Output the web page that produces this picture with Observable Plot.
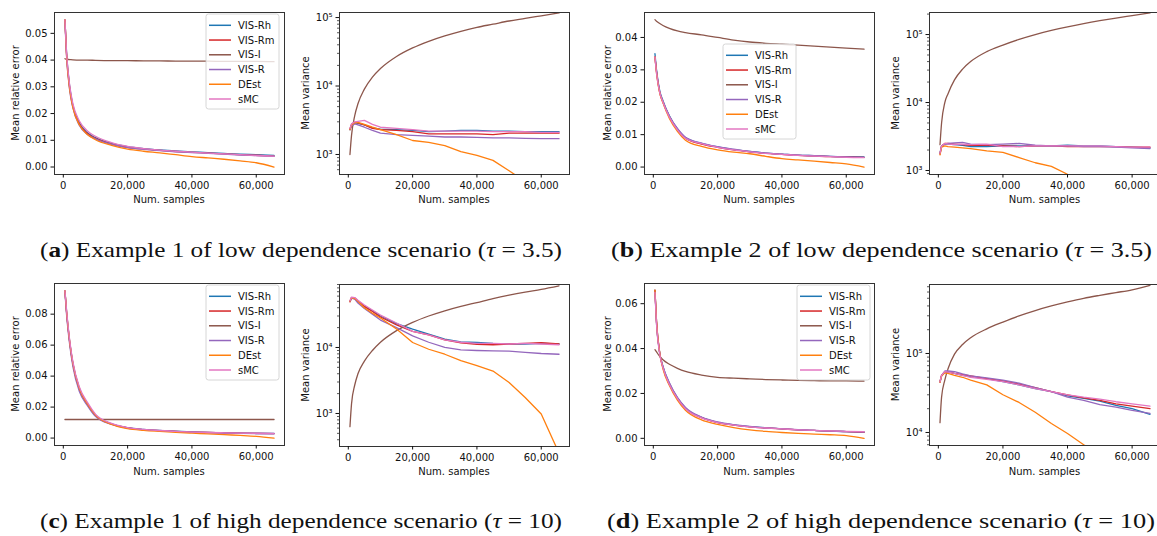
<!DOCTYPE html>
<html><head><meta charset="utf-8">
<script src="https://cdn.jsdelivr.net/npm/d3@7"></script>
<script src="https://cdn.jsdelivr.net/npm/@observablehq/plot@0.6"></script>
<style>
body{margin:0;background:#fff;}
#fig{position:relative;width:1157px;height:536px;overflow:hidden;background:#fff;}
#fig svg{position:absolute;}
</style></head><body><div id="fig"></div>
<script>
// ---------- data ----------
const X = [512,1000,2000,3000,5000,7500,10000,15000,20000,25000,30000,35000,40000,45000,50000,55000,60000,65536];
const SERIES = ["VIS-Rh","VIS-Rm","VIS-I","VIS-R","DEst","sMC"];
const COLORS = ["#1f77b4","#d62728","#8c564b","#9467bd","#ff7f0e","#e377c2"];
const X_TICKS = [0,20000,40000,60000];
const ERR_TICKS_A = [0,0.01,0.02,0.03,0.04,0.05];
const ERR_TICKS_B = [0,0.01,0.02,0.03,0.04];
const ERR_TICKS_C = [0,0.02,0.04,0.06,0.08];
const ERR_TICKS_D = [0,0.02,0.04,0.06];
const LOG_TICKS_A = [1e3,1e4,1e5];
const LOG_TICKS_B = [1e3,1e4,1e5];
const LOG_TICKS_C = [1e3,1e4];
const LOG_TICKS_D = [1e4,1e5];
const CAPTIONS = [
  ["a","Example 1 of low dependence scenario (","τ"," = 3.5)"],
  ["b","Example 2 of low dependence scenario (","τ"," = 3.5)"],
  ["c","Example 1 of high dependence scenario (","τ"," = 10)"],
  ["d","Example 2 of high dependence scenario (","τ"," = 10)"]
];

// (a) low dependence, example 1
const aErrRh   = [0.0550,0.0430,0.0300,0.0230,0.0165,0.0128,0.0110,0.0088,0.0076,0.0069,0.0064,0.0060,0.0057,0.0054,0.0051,0.0048,0.0046,0.0043];
const aErrRm   = [0.0550,0.0425,0.0295,0.0226,0.0161,0.0125,0.0107,0.0086,0.0074,0.0067,0.0062,0.0058,0.0055,0.0052,0.0049,0.0046,0.0044,0.0041];
const aErrI    = [0.0405,0.0403,0.0402,0.0401,0.0400,0.0400,0.0399,0.0398,0.0398,0.0397,0.0397,0.0396,0.0396,0.0396,0.0395,0.0395,0.0395,0.0394];
const aErrR    = [0.0540,0.0415,0.0285,0.0220,0.0155,0.0122,0.0105,0.0085,0.0073,0.0066,0.0061,0.0057,0.0054,0.0051,0.0048,0.0045,0.0043,0.0040];
const aErrDEst = [0.0550,0.0420,0.0290,0.0222,0.0158,0.0122,0.0102,0.0081,0.0067,0.0059,0.0053,0.0046,0.0039,0.0034,0.0029,0.0023,0.0016,0.0000];
const aErrSMC  = [0.0550,0.0430,0.0305,0.0236,0.0172,0.0135,0.0115,0.0091,0.0077,0.0069,0.0063,0.0059,0.0056,0.0052,0.0049,0.0046,0.0043,0.0041];
const aVarRh   = [2300,2700,2900,2850,2700,2450,2350,2300,2250,2150,2200,2250,2250,2200,2200,2150,2150,2150];
const aVarRm   = [2350,2750,2950,2900,2700,2400,2300,2250,2150,2000,2000,2000,2000,1950,2050,2050,2050,2050];
const aVarI    = [1000,1900,3700,5500,9000,13500,18000,27000,36000,45000,54000,63000,72000,80000,89000,97000,106000,117000];
const aVarR    = [2300,2600,2800,2700,2500,2250,2050,1950,1900,1850,1800,1800,1780,1750,1750,1720,1700,1700];
const aVarDEst = [2300,2700,2900,2950,2750,2500,2300,1950,1600,1500,1350,1100,970,820,580,400,300,220];
const aVarSMC  = [2400,2800,3000,3050,3150,2750,2500,2400,2300,2200,2200,2200,2200,2150,2150,2150,2100,2100];

// (b) low dependence, example 2
const bErrRh   = [0.0350,0.0300,0.0235,0.0205,0.0158,0.0118,0.0091,0.0073,0.0062,0.0054,0.0048,0.0043,0.0040,0.0037,0.0035,0.0033,0.0032,0.0031];
const bErrRm   = [0.0340,0.0295,0.0230,0.0200,0.0155,0.0116,0.0089,0.0071,0.0061,0.0053,0.0047,0.0042,0.0039,0.0036,0.0034,0.0032,0.0031,0.0030];
const bErrI    = [0.0455,0.0450,0.0443,0.0437,0.0428,0.0420,0.0415,0.0408,0.0400,0.0392,0.0386,0.0382,0.0379,0.0376,0.0373,0.0370,0.0367,0.0364];
const bErrR    = [0.0340,0.0295,0.0233,0.0203,0.0157,0.0119,0.0092,0.0074,0.0063,0.0055,0.0048,0.0043,0.0040,0.0037,0.0035,0.0033,0.0031,0.0030];
const bErrDEst = [0.0340,0.0290,0.0228,0.0198,0.0150,0.0110,0.0083,0.0064,0.0053,0.0046,0.0041,0.0033,0.0026,0.0022,0.0018,0.0014,0.0010,0.0000];
const bErrSMC  = [0.0340,0.0290,0.0230,0.0200,0.0154,0.0115,0.0089,0.0072,0.0061,0.0053,0.0047,0.0042,0.0039,0.0036,0.0034,0.0032,0.0030,0.0029];
const bVarRh   = [1800,2300,2450,2450,2400,2350,2250,2250,2300,2300,2300,2300,2350,2300,2300,2250,2200,2150];
const bVarRm   = [1750,2300,2500,2500,2450,2400,2350,2350,2300,2250,2300,2300,2250,2250,2250,2250,2200,2200];
const bVarI    = [2400,5000,10000,13500,21500,31000,40000,56000,70000,85000,100000,115000,130000,145000,160000,175000,190000,208000];
const bVarR    = [1750,2250,2450,2500,2550,2600,2450,2400,2450,2500,2350,2300,2300,2250,2250,2200,2150,2100];
const bVarDEst = [1700,2200,2300,2250,2200,2150,2100,1950,1850,1550,1300,1150,880,700,550,450,380,300];
const bVarSMC  = [1800,2300,2500,2450,2400,2450,2400,2450,2250,2250,2300,2300,2300,2300,2300,2250,2200,2200];

// (c) high dependence, example 1
const cErrRh   = [0.0950,0.0820,0.0620,0.0480,0.0320,0.0220,0.0148,0.0092,0.0067,0.0056,0.0049,0.0044,0.0040,0.0037,0.0034,0.0032,0.0031,0.0030];
const cErrRm   = [0.0950,0.0815,0.0615,0.0475,0.0315,0.0217,0.0146,0.0091,0.0066,0.0055,0.0048,0.0043,0.0039,0.0036,0.0033,0.0031,0.0030,0.0029];
const cErrI    = [0.0120,0.0120,0.0120,0.0120,0.0120,0.0120,0.0120,0.0120,0.0120,0.0120,0.0120,0.0120,0.0120,0.0120,0.0120,0.0120,0.0120,0.0120];
const cErrR    = [0.0940,0.0800,0.0600,0.0460,0.0300,0.0210,0.0140,0.0088,0.0065,0.0054,0.0047,0.0042,0.0038,0.0035,0.0032,0.0030,0.0028,0.0027];
const cErrDEst = [0.0950,0.0820,0.0620,0.0480,0.0320,0.0220,0.0148,0.0088,0.0061,0.0050,0.0043,0.0037,0.0032,0.0027,0.0022,0.0017,0.0011,0.0000];
const cErrSMC  = [0.0950,0.0830,0.0630,0.0490,0.0330,0.0230,0.0155,0.0095,0.0068,0.0056,0.0049,0.0043,0.0039,0.0036,0.0034,0.0032,0.0031,0.0030];
const cVarRh   = [50000,56000,55000,50000,42000,36000,30000,23000,19000,16000,13400,12200,11900,11500,11300,11300,11500,11300];
const cVarRm   = [49000,57000,56000,51000,42000,35000,29000,22000,17500,15500,13000,11800,11200,11000,11300,11500,11800,11300];
const cVarI    = [630,1400,2700,4000,6200,9000,12000,18000,24000,30000,36000,42000,48000,55000,62000,69000,76000,86000];
const cVarR    = [50000,56000,54000,47000,39000,32000,26000,20000,15000,12000,10000,9200,9000,8900,8800,8400,8100,7900];
const cVarDEst = [50000,57000,55000,50000,40000,33000,28000,19000,11900,9400,7900,6300,5300,4400,2950,1750,980,250];
const cVarSMC  = [51000,58000,57000,52000,44000,37000,31000,23500,17500,15500,13000,12000,11500,11500,11300,11500,11300,11000];

// (d) high dependence, example 2
const dErrRh   = [0.0660,0.0520,0.0380,0.0320,0.0245,0.0180,0.0135,0.0093,0.0071,0.0060,0.0052,0.0047,0.0042,0.0038,0.0035,0.0032,0.0030,0.0028];
const dErrRm   = [0.0660,0.0520,0.0380,0.0315,0.0240,0.0178,0.0133,0.0092,0.0070,0.0059,0.0051,0.0046,0.0042,0.0038,0.0035,0.0032,0.0030,0.0027];
const dErrI    = [0.0395,0.0385,0.0365,0.0350,0.0330,0.0312,0.0298,0.0282,0.0272,0.0268,0.0265,0.0262,0.0260,0.0258,0.0257,0.0256,0.0256,0.0255];
const dErrR    = [0.0650,0.0510,0.0380,0.0320,0.0248,0.0183,0.0138,0.0095,0.0073,0.0061,0.0053,0.0047,0.0043,0.0039,0.0035,0.0032,0.0030,0.0028];
const dErrDEst = [0.0660,0.0520,0.0380,0.0310,0.0235,0.0170,0.0125,0.0082,0.0062,0.0048,0.0038,0.0031,0.0026,0.0022,0.0019,0.0016,0.0012,0.0000];
const dErrSMC  = [0.0650,0.0510,0.0375,0.0315,0.0240,0.0177,0.0132,0.0091,0.0070,0.0059,0.0051,0.0046,0.0042,0.0038,0.0035,0.0033,0.0031,0.0030];
const dVarRh   = [44000,52000,58000,59000,56000,53000,51000,48000,44000,40000,36000,33000,29000,27000,25000,22000,20000,17000];
const dVarRm   = [44000,53000,59000,58000,56000,54000,52000,48000,45000,41000,37000,33000,30000,27500,25500,23000,21500,20000];
const dVarI    = [13300,28000,46000,64000,98000,130000,158000,205000,250000,300000,350000,400000,450000,500000,545000,590000,640000,730000];
const dVarR    = [43000,52000,60000,60000,59000,55000,52000,49000,46000,42000,37000,33000,28000,25500,22500,21000,19000,17500];
const dVarDEst = [43000,52000,57000,56000,53000,50000,46000,40000,30000,24000,18000,13000,9700,7000,5200,4000,3000,2500];
const dVarSMC  = [44000,53000,59000,58000,56000,53000,50000,47000,44000,40000,36000,33000,30000,28000,26500,24500,23000,21500];

// ---------- layout ----------
const X_DOMAIN = [-2739, 68787];
const PANELS = [
  {left:0,   top:0,   width:290, height:215, ml:54, mr:6,  mt:12, mb:41, type:"linear", yDomain:[-0.0028,0.0578], yTicks:ERR_TICKS_A,
   values:[aErrRh,aErrRm,aErrI,aErrR,aErrDEst,aErrSMC], ylabel:"Mean relative error", ylabelX:15, xlabelY:199.5, legend:[206,14]},
  {left:290, top:0,   width:290, height:215, ml:49, mr:11, mt:12, mb:41, type:"log", yDomain:[510,118500], yTicks:LOG_TICKS_A,
   values:[aVarRh,aVarRm,aVarI,aVarR,aVarDEst,aVarSMC], ylabel:"Mean variance", ylabelX:305, xlabelY:199.5},
  {left:580, top:0,   width:296, height:215, ml:64, mr:2,  mt:12, mb:41, type:"linear", yDomain:[-0.0023,0.0477], yTicks:ERR_TICKS_B,
   values:[bErrRh,bErrRm,bErrI,bErrR,bErrDEst,bErrSMC], ylabel:"Mean relative error", ylabelX:607, xlabelY:199.5, legend:[723,44]},
  {left:870, top:0,   width:291, height:215, ml:59, mr:1,  mt:12, mb:41, type:"log", yDomain:[873,211000], yTicks:LOG_TICKS_B,
   values:[bVarRh,bVarRm,bVarI,bVarR,bVarDEst,bVarSMC], ylabel:"Mean variance", ylabelX:895, xlabelY:199.5},
  {left:0,   top:270, width:290, height:215, ml:54, mr:6,  mt:13, mb:40, type:"linear", yDomain:[-0.0048,0.0998], yTicks:ERR_TICKS_C,
   values:[cErrRh,cErrRm,cErrI,cErrR,cErrDEst,cErrSMC], ylabel:"Mean relative error", ylabelX:15, xlabelY:201, legend:[206,285]},
  {left:290, top:270, width:290, height:215, ml:49, mr:11, mt:14, mb:39, type:"log", yDomain:[316,90000], yTicks:LOG_TICKS_C,
   values:[cVarRh,cVarRm,cVarI,cVarR,cVarDEst,cVarSMC], ylabel:"Mean variance", ylabelX:305, xlabelY:201},
  {left:580, top:270, width:296, height:215, ml:64, mr:2,  mt:13, mb:40, type:"linear", yDomain:[-0.0032,0.069], yTicks:ERR_TICKS_D,
   values:[dErrRh,dErrRm,dErrI,dErrR,dErrDEst,dErrSMC], ylabel:"Mean relative error", ylabelX:607, xlabelY:201, legend:[797,285]},
  {left:870, top:270, width:291, height:215, ml:59, mr:1,  mt:14, mb:40, type:"log", yDomain:[6840,747000], yTicks:LOG_TICKS_D,
   values:[dVarRh,dVarRm,dVarI,dVarR,dVarDEst,dVarSMC], ylabel:"Mean variance", ylabelX:895, xlabelY:201}
];

const SUP = {"3":"³","4":"⁴","5":"⁵","6":"⁶"};
const supFmt = d => "10" + SUP[String(Math.round(Math.log10(d)))];
const MINOR = [];
for (let e = 2; e <= 5; e++) for (let m = 2; m <= 9; m++) MINOR.push(m * Math.pow(10, e));

const fig = document.getElementById("fig");

function build(p) {
  const rows = [];
  SERIES.forEach((s, k) => p.values[k].forEach((v, i) => rows.push({x: X[i], y: v, s})));
  const isLog = p.type === "log";
  const [y0, y1] = p.yDomain;
  const marks = SERIES.map(s => Plot.line(rows, {
    filter: d => d.s === s, x: "x", y: "y", stroke: "s", strokeWidth: 1.3,
    curve: (isLog && s !== "VIS-I") ? "linear" : "monotone-x", clip: true
  }));
  marks.push(
    Plot.frame({stroke: "#333", strokeWidth: 1}),
    Plot.axisX({ticks: X_TICKS, tickFormat: d3.format(","), tickSize: 3.5, tickPadding: 3.5, label: null}),
    Plot.axisY({ticks: p.yTicks, tickFormat: isLog ? supFmt : d3.format(".2f"), tickSize: 3.5, tickPadding: 3.5, label: null})
  );
  if (isLog) {
    marks.push(Plot.axisY({ticks: MINOR.filter(v => v >= y0 && v <= y1), tickSize: 2, tickFormat: () => "", label: null, strokeWidth: 0.7}));
  }
  const svg = Plot.plot({
    width: p.width, height: p.height,
    marginLeft: p.ml, marginRight: p.mr, marginTop: p.mt, marginBottom: p.mb,
    x: {domain: X_DOMAIN},
    y: isLog ? {type: "log", domain: p.yDomain} : {domain: p.yDomain},
    color: {domain: SERIES, range: COLORS},
    style: {fontFamily: "DejaVu Sans", fontSize: "10px", color: "#111", background: "transparent", overflow: "visible"},
    marks
  });
  svg.style.left = p.left + "px";
  svg.style.top = p.top + "px";
  const sel = d3.select(svg);
  const fx = p.ml + (p.width - p.ml - p.mr) / 2;
  const fy = p.mt + (p.height - p.mt - p.mb) / 2;
  sel.append("text").attr("x", fx).attr("y", p.xlabelY).attr("dy", "0.35em")
    .attr("text-anchor", "middle").attr("font-size", 10).attr("fill", "#111").text("Num. samples");
  sel.append("text").attr("transform", `translate(${p.ylabelX - p.left},${fy}) rotate(-90)`).attr("dy", "0.35em")
    .attr("text-anchor", "middle").attr("font-size", 10).attr("fill", "#111").text(p.ylabel);
  if (p.legend) {
    const g = sel.append("g").attr("transform", `translate(${p.legend[0] - p.left},${p.legend[1] - p.top})`);
    g.append("rect").attr("width", 73).attr("height", 95).attr("rx", 2.5)
      .attr("fill", "white").attr("fill-opacity", 0.8).attr("stroke", "#cccccc").attr("stroke-width", 0.8);
    SERIES.forEach((s, k) => {
      const y = 11.3 + k * 14.74;
      g.append("line").attr("x1", 3).attr("x2", 25).attr("y1", y).attr("y2", y)
        .attr("stroke", COLORS[k]).attr("stroke-width", 1.5);
      g.append("text").attr("x", 32).attr("y", y).attr("dy", "0.35em").attr("text-anchor", "start")
        .attr("font-size", 10).attr("fill", "#111").text(s);
    });
  }
  fig.appendChild(svg);
}
PANELS.forEach(build);

// captions
const cap = d3.select(fig).append("svg").attr("width", 1157).attr("height", 536).style("left", "0px").style("top", "0px");
const CAP_POS = [[40, 256.7, 522], [611, 256.7, 541], [40, 527.5, 522], [607, 527.5, 548]];
CAPTIONS.forEach((c, i) => {
  const [x, y, w] = CAP_POS[i];
  const t = cap.append("text").attr("x", x).attr("y", y)
    .attr("font-family", "Liberation Serif").attr("font-size", 22).attr("fill", "#111")
    .attr("textLength", w).attr("lengthAdjust", "spacingAndGlyphs");
  t.append("tspan").text("(");
  t.append("tspan").attr("font-weight", "bold").text(c[0]);
  t.append("tspan").text(") " + c[1]);
  t.append("tspan").attr("font-style", "italic").text(c[2]);
  t.append("tspan").text(c[3]);
});
</script></body></html>
